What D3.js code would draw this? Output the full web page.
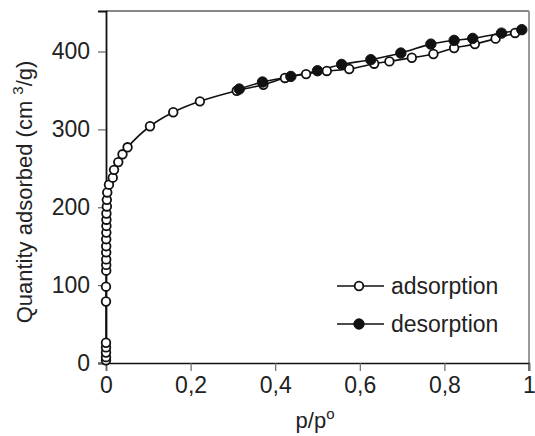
<!DOCTYPE html>
<html>
<head>
<meta charset="utf-8">
<script src="https://cdn.jsdelivr.net/npm/d3@7"></script>
<style>
  body { margin: 0; background: #fff; }
  text { font-family: "Liberation Sans", Arial, sans-serif; fill: #222; }
</style>
</head>
<body>
<div id="container"></div>
<script>
// isotherm values
const adsP = [0, 0, 0, 0, 0, 0, 0, 0.0005, 0.0005, 0.0005, 0.0005, 0.0005, 0.0005, 0.0008, 0.001, 0.001, 0.001, 0.002, 0.002, 0.003, 0.007, 0.016, 0.019, 0.029, 0.039, 0.051, 0.104, 0.159, 0.222, 0.309, 0.372, 0.423, 0.473, 0.522, 0.575, 0.634, 0.670, 0.723, 0.774, 0.823, 0.872, 0.921, 0.967];
const adsQ = [3.5, 7.5, 13.5, 20, 26, 79, 98, 118.6, 126, 133, 142, 150, 159, 167.5, 176, 184, 192, 201, 209.5, 219, 229, 238, 248, 258, 268, 277, 304, 322, 336, 349.6, 357.3, 366, 371, 375, 377.5, 384.3, 387.3, 392, 396.8, 404.5, 409.5, 416.5, 423.8];

const desP = [0.315, 0.370, 0.437, 0.500, 0.557, 0.626, 0.697, 0.768, 0.823, 0.867, 0.935, 0.983];
const desQ = [351.8, 360.8, 368, 375.3, 383.4, 389.5, 398, 409.5, 414.3, 416.8, 423.6, 428];

const xTicks = [0, 0.2, 0.4, 0.6, 0.8, 1];
const yTicks = [0, 100, 200, 300, 400];
const seriesNames = ['adsorption', 'desorption'];

const width = 535;
const height = 436;
const plot = { left: 106, right: 529, top: 11, bottom: 363 };

const svg = d3.select('#container').append('svg')
    .attr('width', width)
    .attr('height', height);

const xScale = d3.scaleLinear().domain([0, 1]).range([plot.left, plot.right]);
const yScale = d3.scaleLinear().domain([0, 452]).range([plot.bottom, plot.top]);

// frame: top thin line, right grey edge
svg.append('line')
    .attr('x1', plot.left).attr('x2', plot.right)
    .attr('y1', plot.top).attr('y2', plot.top)
    .attr('stroke', '#111').attr('stroke-width', 1.2);
svg.append('line')
    .attr('x1', plot.right).attr('x2', plot.right)
    .attr('y1', plot.top).attr('y2', plot.bottom + 8)
    .attr('stroke', '#999').attr('stroke-width', 2);

// axes
const xAxis = svg.append('g')
    .attr('transform', 'translate(0,' + plot.bottom + ')')
    .call(d3.axisBottom(xScale).tickValues(xTicks).tickSize(8).tickPadding(6)
        .tickFormat(d => d === 0 || d === 1 ? d3.format('d')(d) : d3.format('.1f')(d).replace('.', ',')));
xAxis.select('.domain').attr('stroke', '#111').attr('stroke-width', 1.5);
xAxis.selectAll('.tick line').attr('stroke', '#666').attr('stroke-width', 1.2);
xAxis.selectAll('.tick text').attr('font-size', 23).attr('fill', '#222')
    .attr('font-family', '"Liberation Sans", Arial, sans-serif');

const yAxis = svg.append('g')
    .attr('transform', 'translate(' + plot.left + ',0)')
    .call(d3.axisLeft(yScale).tickValues(yTicks).tickSize(8).tickPadding(8));
yAxis.select('.domain').attr('stroke', '#111').attr('stroke-width', 1.8);
yAxis.selectAll('.tick line').attr('stroke', '#666').attr('stroke-width', 1.2);
yAxis.selectAll('.tick text').attr('font-size', 23).attr('fill', '#222')
    .attr('font-family', '"Liberation Sans", Arial, sans-serif');

// axis titles
const yTitle = svg.append('text')
    .attr('transform', 'translate(32,' + 192 + ') rotate(-90)')
    .attr('text-anchor', 'middle')
    .attr('font-size', 22);
yTitle.append('tspan').text('Quantity adsorbed (cm ');
yTitle.append('tspan').attr('font-size', 15).attr('dy', -9).text('3');
yTitle.append('tspan').attr('dy', 9).text('/g)');

const xTitle = svg.append('text')
    .attr('x', 315).attr('y', 428)
    .attr('text-anchor', 'middle')
    .attr('font-size', 22);
xTitle.append('tspan').text('p/p');
xTitle.append('tspan').attr('font-size', 15).attr('dy', -9).text('o');

// curves
const line = d3.line()
    .x(d => xScale(d.p))
    .y(d => yScale(d.q))
    .curve(d3.curveCatmullRom.alpha(0.5));

const ads = adsP.map((p, i) => ({ p: p, q: adsQ[i] }));
const des = desP.map((p, i) => ({ p: p, q: desQ[i] }));

svg.append('path').datum(ads)
    .attr('d', line).attr('fill', 'none')
    .attr('stroke', '#111').attr('stroke-width', 1.6);
svg.append('path').datum(des)
    .attr('d', line).attr('fill', 'none')
    .attr('stroke', '#111').attr('stroke-width', 1.6);

svg.selectAll('circle.ads')
    .data(ads).enter().append('circle')
    .attr('class', 'ads')
    .attr('cx', d => xScale(d.p))
    .attr('cy', d => yScale(d.q))
    .attr('r', 4.3)
    .attr('fill', '#fff').attr('stroke', '#111').attr('stroke-width', 1.8);

svg.selectAll('circle.des')
    .data(des).enter().append('circle')
    .attr('class', 'des')
    .attr('cx', d => xScale(d.p))
    .attr('cy', d => yScale(d.q))
    .attr('r', 5.2)
    .attr('fill', '#111').attr('stroke', '#111').attr('stroke-width', 1);

// legend
const legend = svg.append('g');
seriesNames.forEach((name, i) => {
    const y = 286 + i * 38;
    legend.append('line')
        .attr('x1', 337).attr('x2', 384).attr('y1', y).attr('y2', y)
        .attr('stroke', '#111').attr('stroke-width', 1.6);
    legend.append('circle')
        .attr('cx', 359).attr('cy', y)
        .attr('r', i === 0 ? 4.3 : 5.2)
        .attr('fill', i === 0 ? '#fff' : '#111')
        .attr('stroke', '#111').attr('stroke-width', i === 0 ? 1.8 : 1);
    legend.append('text')
        .attr('x', 391).attr('y', y).attr('dy', '0.35em')
        .attr('font-size', 23)
        .text(name);
});
</script>
</body>
</html>
